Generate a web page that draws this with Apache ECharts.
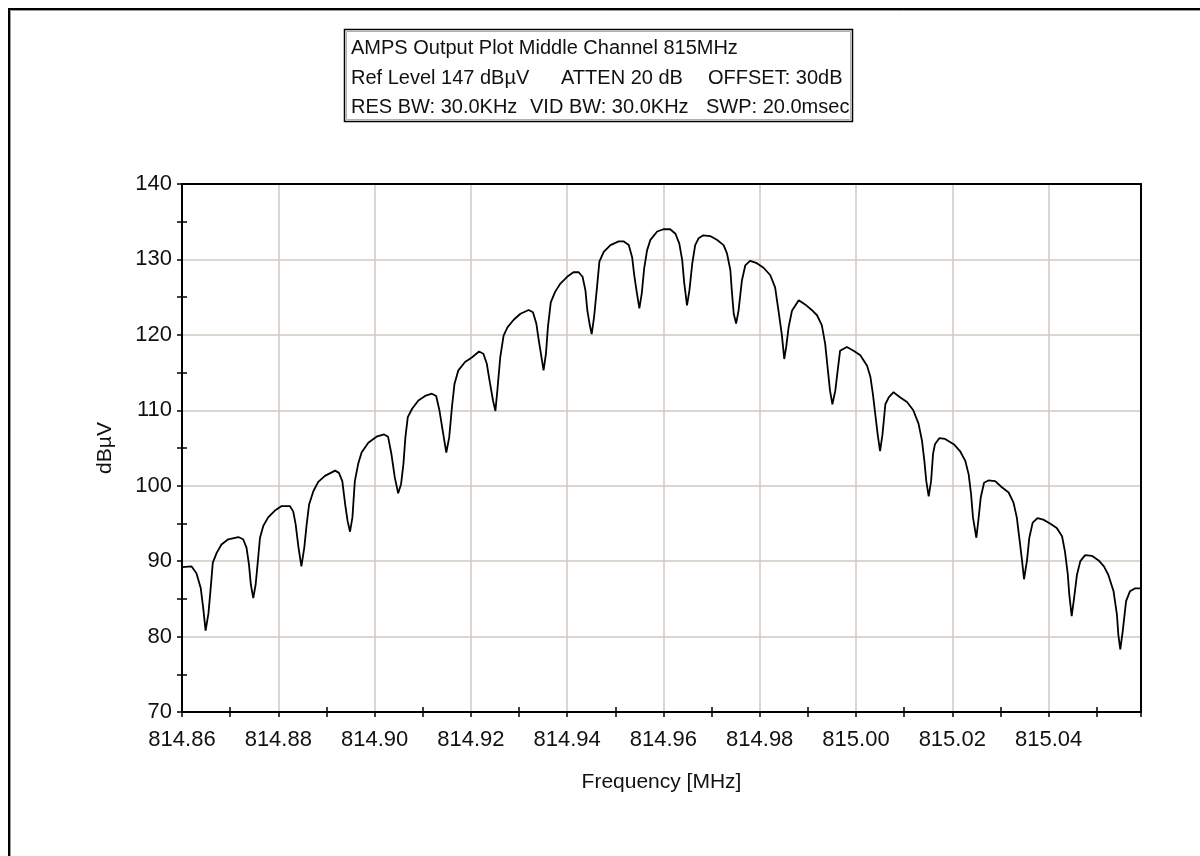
<!DOCTYPE html>
<html>
<head>
<meta charset="utf-8">
<title>AMPS Output Plot Middle Channel 815MHz</title>
<script src="https://cdn.jsdelivr.net/npm/echarts@6/dist/echarts.min.js"></script>
<style>
  html, body { margin: 0; padding: 0; background: #fff; }
  #chart { width: 1200px; height: 856px; }
</style>
</head>
<body>
<div id="chart"></div>
<script>
// Spectrum analyser trace: frequency (MHz) and level (dBµV)
const freqMHz = [
  814.8600, 814.8620, 814.8630, 814.8639, 814.8644, 814.8649, 814.8655, 814.8659, 814.8664, 814.8672,
  814.8682, 814.8696, 814.8717, 814.8727, 814.8734, 814.8739, 814.8743, 814.8748, 814.8753, 814.8757,
  814.8762, 814.8769, 814.8779, 814.8793, 814.8807, 814.8824, 814.8831, 814.8836, 814.8842, 814.8848,
  814.8854, 814.8859, 814.8864, 814.8873, 814.8883, 814.8897, 814.8918, 814.8926, 814.8933, 814.8939,
  814.8944, 814.8949, 814.8954, 814.8959, 814.8966, 814.8973, 814.8987, 814.9004, 814.9020, 814.9028,
  814.9035, 814.9042, 814.9049, 814.9055, 814.9060, 814.9064, 814.9069, 814.9078, 814.9091, 814.9105,
  814.9119, 814.9128, 814.9135, 814.9142, 814.9149, 814.9155, 814.9161, 814.9166, 814.9174, 814.9188,
  814.9202, 814.9217, 814.9226, 814.9233, 814.9240, 814.9246, 814.9251, 814.9255, 814.9261, 814.9268,
  814.9276, 814.9289, 814.9303, 814.9320, 814.9329, 814.9336, 814.9341, 814.9346, 814.9351, 814.9356,
  814.9360, 814.9366, 814.9375, 814.9386, 814.9400, 814.9413, 814.9424, 814.9432, 814.9438, 814.9442,
  814.9447, 814.9451, 814.9456, 814.9462, 814.9467, 814.9476, 814.9490, 814.9507, 814.9517, 814.9528,
  814.9535, 814.9539, 814.9544, 814.9550, 814.9555, 814.9560, 814.9566, 814.9573, 814.9587, 814.9600,
  814.9614, 814.9625, 814.9633, 814.9639, 814.9643, 814.9649, 814.9654, 814.9660, 814.9666, 814.9673,
  814.9683, 814.9697, 814.9711, 814.9725, 814.9732, 814.9739, 814.9742, 814.9746, 814.9751, 814.9756,
  814.9763, 814.9770, 814.9780, 814.9794, 814.9808, 814.9822, 814.9832, 814.9839, 814.9846, 814.9851,
  814.9855, 814.9860, 814.9867, 814.9881, 814.9895, 814.9908, 814.9919, 814.9929, 814.9936, 814.9941,
  814.9946, 814.9951, 814.9957, 814.9962, 814.9967, 814.9981, 814.9995, 815.0009, 815.0023, 815.0030,
  815.0035, 815.0040, 815.0045, 815.0050, 815.0055, 815.0061, 815.0068, 815.0078, 815.0092, 815.0106,
  815.0119, 815.0130, 815.0137, 815.0142, 815.0146, 815.0151, 815.0156, 815.0160, 815.0164, 815.0173,
  815.0185, 815.0203, 815.0216, 815.0227, 815.0234, 815.0239, 815.0243, 815.0250, 815.0254, 815.0259,
  815.0266, 815.0275, 815.0289, 815.0303, 815.0317, 815.0327, 815.0334, 815.0340, 815.0345, 815.0349,
  815.0355, 815.0360, 815.0367, 815.0377, 815.0389, 815.0403, 815.0417, 815.0428, 815.0434, 815.0440,
  815.0443, 815.0448, 815.0453, 815.0459, 815.0466, 815.0476, 815.0490, 815.0504, 815.0515, 815.0524,
  815.0535, 815.0542, 815.0545, 815.0549, 815.0554, 815.0561, 815.0569, 815.0580, 815.0591
];
const levelDbuV = [
  89.2, 89.3, 88.4, 86.4, 83.8, 80.8, 83.1, 86.0, 89.8, 91.1,
  92.2, 92.9, 93.2, 92.9, 91.8, 89.6, 86.9, 85.1, 86.9, 89.6,
  93.1, 94.7, 95.8, 96.7, 97.3, 97.3, 96.6, 94.9, 91.8, 89.3,
  91.8, 94.9, 97.5, 99.3, 100.5, 101.3, 102.0, 101.7, 100.6, 97.5,
  95.3, 93.9, 95.8, 100.6, 102.9, 104.4, 105.7, 106.5, 106.8, 106.5,
  104.2, 101.1, 99.0, 100.2, 102.9, 106.4, 109.1, 110.2, 111.3, 111.9,
  112.2, 111.9, 109.9, 107.1, 104.4, 106.4, 110.6, 113.5, 115.3, 116.4,
  117.0, 117.8, 117.5, 116.2, 113.5, 111.3, 109.9, 112.6, 117.0, 119.9,
  121.0, 122.0, 122.8, 123.3, 123.0, 121.5, 119.3, 117.3, 115.3, 117.5,
  121.0, 124.3, 125.7, 126.8, 127.7, 128.3, 128.3, 127.7, 125.9, 123.2,
  121.3, 120.1, 122.4, 126.3, 129.7, 131.0, 131.9, 132.4, 132.4, 131.9,
  130.3, 128.1, 125.9, 123.5, 125.5, 128.8, 131.2, 132.6, 133.7, 134.0,
  134.0, 133.4, 132.1, 129.9, 127.0, 123.9, 125.9, 129.5, 131.9, 132.8,
  133.2, 133.1, 132.6, 131.9, 130.8, 128.6, 125.9, 122.8, 121.5, 123.2,
  127.2, 129.2, 129.8, 129.5, 128.9, 127.9, 126.3, 123.2, 120.0, 116.8,
  118.4, 121.0, 123.2, 124.6, 124.0, 123.3, 122.6, 121.3, 118.8, 115.7,
  112.6, 110.8, 112.6, 115.3, 117.9, 118.4, 117.9, 117.3, 115.9, 114.4,
  112.2, 109.5, 106.8, 104.6, 106.8, 110.8, 111.7, 112.4, 111.7, 111.1,
  110.0, 108.2, 106.0, 103.3, 100.6, 98.6, 100.6, 104.2, 105.5, 106.3,
  106.2, 105.5, 104.6, 103.3, 101.5, 98.9, 95.8, 93.1, 95.3, 98.4,
  100.4, 100.7, 100.6, 99.8, 99.1, 97.8, 95.8, 92.7, 90.0, 87.6,
  90.0, 93.1, 95.1, 95.7, 95.5, 95.0, 94.4, 93.3, 91.3, 88.2,
  85.6, 82.7, 85.1, 88.2, 90.0, 90.8, 90.7, 90.1, 89.3, 88.2,
  86.0, 82.9, 80.2, 78.3, 80.7, 84.7, 86.0, 86.4, 86.4
];

// Axis ranges and tick positions
const freqMin = 814.86, freqMax = 815.0592, freqStep = 0.02;
const levelMin = 70, levelMax = 140, levelStep = 10;
const freqMinorTicks = [814.87, 814.89, 814.91, 814.93, 814.95, 814.97, 814.99, 815.01, 815.03, 815.05];
const levelMinorTicks = [75, 85, 95, 105, 115, 125, 135];

// Header text shown in the boxed caption
const headerLine1 = ['AMPS Output Plot Middle Channel 815MHz'];
const headerLine2 = ['Ref Level 147 dBµV', 'ATTEN 20 dB', 'OFFSET: 30dB'];
const headerLine3 = ['RES BW: 30.0KHz', 'VID BW: 30.0KHz', 'SWP: 20.0msec'];
const xAxisTitle = 'Frequency [MHz]';
const yAxisTitle = 'dBµV';

const FONT = '"Liberation Sans", Arial, sans-serif';
const TXT = '#111';
const GRIDC = '#d2c8be';

const trace = freqMHz.map((f, i) => [f, levelDbuV[i]]);

const chart = echarts.init(document.getElementById('chart'), null, { renderer: 'canvas' });

function headerText(str, x, y) {
  return {
    type: 'text', x: x, y: y, silent: true,
    style: { text: str, fill: TXT, font: '20px ' + FONT, textVerticalAlign: 'middle' }
  };
}

// Plain axis used only to draw a frame edge (top / right of the plot)
function frameAxis(position) {
  return {
    position: position,
    axisLine: { show: true, onZero: false, lineStyle: { color: '#000', width: 2 } },
    axisTick: { show: false },
    axisLabel: { show: false },
    splitLine: { show: false }
  };
}

const option = {
  animation: false,
  backgroundColor: '#fff',
  grid: {
    left: 182, right: 59, top: 184, bottom: 144,
    show: false
  },
  xAxis: [
    {
      type: 'value', min: freqMin, max: freqMax, interval: freqStep,
      name: xAxisTitle, nameLocation: 'middle', nameGap: 60,
      nameTextStyle: { fontSize: 21, fontFamily: FONT, color: TXT },
      axisLine: { show: true, onZero: false, lineStyle: { color: '#000', width: 2 } },
      axisTick: { show: true, length: 5, lineStyle: { color: '#000', width: 1.5 } },
      minorTick: { show: true, splitNumber: 2, length: 5, lineStyle: { color: '#000', width: 1.5 } },
      splitLine: { show: true, lineStyle: { color: GRIDC, width: 1.5 } },
      axisLabel: {
        fontSize: 22, fontFamily: FONT, color: TXT, margin: 17,
        showMaxLabel: false,
        formatter: v => v.toFixed(2)
      }
    },
    {
      // inner half of the minor tick marks
      type: 'value', min: freqMin, max: freqMax, position: 'bottom',
      axisLine: { show: false },
      axisTick: { show: true, inside: true, length: 5, customValues: freqMinorTicks,
                  lineStyle: { color: '#000', width: 1.5 } },
      axisLabel: { show: false },
      splitLine: { show: false }
    },
    Object.assign({ type: 'value', min: freqMin, max: freqMax }, frameAxis('top'))
  ],
  yAxis: [
    {
      type: 'value', min: levelMin, max: levelMax, interval: levelStep,
      name: yAxisTitle, nameLocation: 'middle', nameGap: 66, nameRotate: 90,
      nameTextStyle: { fontSize: 21, fontFamily: FONT, color: TXT },
      axisLine: { show: true, onZero: false, lineStyle: { color: '#000', width: 2 } },
      axisTick: { show: true, length: 5, lineStyle: { color: '#000', width: 1.5 } },
      minorTick: { show: true, splitNumber: 2, length: 5, lineStyle: { color: '#000', width: 1.5 } },
      splitLine: { show: true, lineStyle: { color: GRIDC, width: 1.5 } },
      axisLabel: { fontSize: 22, fontFamily: FONT, color: TXT, margin: 10 }
    },
    {
      type: 'value', min: levelMin, max: levelMax, position: 'left',
      axisLine: { show: false },
      axisTick: { show: true, inside: true, length: 5, customValues: levelMinorTicks,
                  lineStyle: { color: '#000', width: 1.5 } },
      axisLabel: { show: false },
      splitLine: { show: false }
    },
    Object.assign({ type: 'value', min: levelMin, max: levelMax }, frameAxis('right'))
  ],
  series: [
    {
      type: 'line', xAxisIndex: 0, yAxisIndex: 0,
      data: trace, showSymbol: false, smooth: false,
      lineStyle: { color: '#000', width: 1.8 },
      z: 5
    }
  ],
  graphic: [
    // outer frame
    { type: 'rect', silent: true, shape: { x: 9, y: 9, width: 1400, height: 1000 },
      style: { fill: 'none', stroke: '#000', lineWidth: 2 } },
    { type: 'rect', silent: true, shape: { x: 10.5, y: 10.5, width: 1400, height: 1000 },
      style: { fill: 'none', stroke: '#9a9a9a', lineWidth: 1 } },
    // caption box
    { type: 'rect', silent: true, shape: { x: 344.5, y: 29.5, width: 508, height: 92 },
      style: { fill: '#fff', stroke: '#000', lineWidth: 1.5 } },
    { type: 'rect', silent: true, shape: { x: 346.5, y: 31.5, width: 504, height: 88 },
      style: { fill: 'none', stroke: '#b0b0b0', lineWidth: 1 } },
    headerText(headerLine1[0], 351, 48),
    headerText(headerLine2[0], 351, 78),
    headerText(headerLine2[1], 561, 78),
    headerText(headerLine2[2], 708, 78),
    headerText(headerLine3[0], 351, 107),
    headerText(headerLine3[1], 530, 107),
    headerText(headerLine3[2], 706, 107)
  ]
};

chart.setOption(option);
</script>
</body>
</html>
